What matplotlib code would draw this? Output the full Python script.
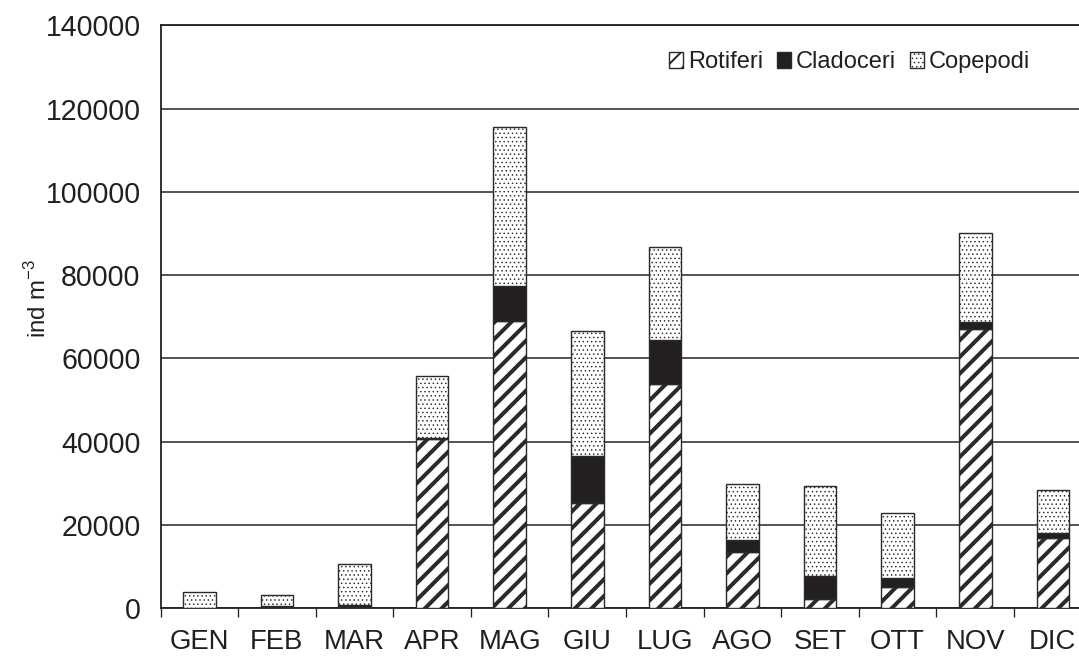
import matplotlib
matplotlib.use("Agg")
import matplotlib.pyplot as plt
import numpy as np

months = ['GEN', 'FEB', 'MAR', 'APR', 'MAG', 'GIU', 'LUG', 'AGO', 'SET', 'OTT', 'NOV', 'DIC']
rotiferi = [0, 200, 300, 40500, 69000, 25300, 53900, 13500, 2200, 5000, 67000, 16900]
cladoceri = [0, 300, 400, 400, 8400, 11100, 10500, 2800, 5600, 2200, 1600, 1100]
copepodi = [3800, 2700, 9900, 14800, 38100, 30200, 22400, 13600, 21400, 15700, 21500, 10300]
series_names = ['Rotiferi', 'Cladoceri', 'Copepodi']
yticks = [0, 20000, 40000, 60000, 80000, 100000, 120000, 140000]

plt.rcParams['font.family'] = ['Liberation Sans', 'DejaVu Sans']
plt.rcParams['mathtext.fontset'] = 'custom'
plt.rcParams['mathtext.rm'] = 'Liberation Sans'

DPI = 50
W, H = 1079, 658
K = 72.0 / DPI  # points per pixel


def pt(px):
    return px * K

fig = plt.figure(figsize=(W / DPI, H / DPI), dpi=DPI)
L, R, T, B = 160.5, 1091.6, 25.3, 608.0
ax = fig.add_axes([L / W, 1 - B / H, (R - L) / W, (B - T) / H])

txt = '#231f20'
edge = '#2a2a2a'
x = np.arange(len(months))
bw = 0.42

rot = np.array(rotiferi)
cla = np.array(cladoceri)
cop = np.array(copepodi)


def wrap_hatch_lw(artist, hlw):
    orig = artist.draw

    def draw(renderer, _orig=orig, _hlw=hlw):
        with plt.rc_context({'hatch.linewidth': _hlw}):
            if hasattr(artist, 'set_hatch_linewidth'):
                artist.set_hatch_linewidth(_hlw)
            return _orig(renderer)
    artist.draw = draw


def make_bars(vals, bottom, hatch, face, hlw, label):
    with plt.rc_context({'hatch.linewidth': hlw}):
        bars = ax.bar(x, vals, bw, bottom=bottom, color=face, edgecolor=edge,
                      linewidth=pt(1.4), hatch=hatch, label=label, zorder=3)
    for p in bars:
        wrap_hatch_lw(p, hlw)
    return bars

b1 = make_bars(rot, 0, '/', 'white', pt(4.0), series_names[0])
b2 = make_bars(cla, rot, None, txt, pt(1.0), series_names[1])
b3 = make_bars(cop, rot + cla, '..', 'white', pt(0.75), series_names[2])

ax.set_xlim(-0.5, len(months) - 0.5)
ax.set_ylim(0, 140000)
ax.set_yticks(yticks)
ax.set_yticklabels([str(v) for v in yticks])
ax.yaxis.grid(True, color=txt, linewidth=pt(1.5), zorder=0)
ax.set_axisbelow(True)
ax.tick_params(axis='y', length=0, pad=pt(20), labelsize=pt(28.5), labelcolor=txt)

ax.set_xticks(x)
ax.set_xticklabels(months)
ax.set_xticks(np.arange(len(months) + 1) - 0.5, minor=True)
ax.tick_params(axis='x', which='major', length=0, pad=pt(21), labelsize=pt(27.5), labelcolor=txt)
ax.tick_params(axis='x', which='minor', length=pt(9), width=pt(1.3), color=txt, direction='out')

for s in ['left', 'bottom', 'top']:
    ax.spines[s].set_color(txt)
    ax.spines[s].set_linewidth(pt(1.8))
ax.spines['right'].set_visible(False)

fig.text(38 / W, 1 - 298 / H, r'ind m$^{\mathregular{-3}}$', rotation=90,
         ha='center', va='center', fontsize=pt(24), color=txt)

leg = fig.legend(handles=[b1, b2, b3], labels=series_names, ncol=3,
                 loc='center left', bbox_to_anchor=(669 / W, 1 - 62 / H),
                 frameon=False, fontsize=pt(23.6), handlelength=0.6, handleheight=0.65,
                 handletextpad=0.2, columnspacing=0.6, borderpad=0, borderaxespad=0,
                 labelcolor=txt)
for h, lw in zip(leg.legend_handles, [pt(2.0), pt(1.0), pt(0.75)]):
    wrap_hatch_lw(h, lw)

fig.savefig('out.png', dpi=DPI)
